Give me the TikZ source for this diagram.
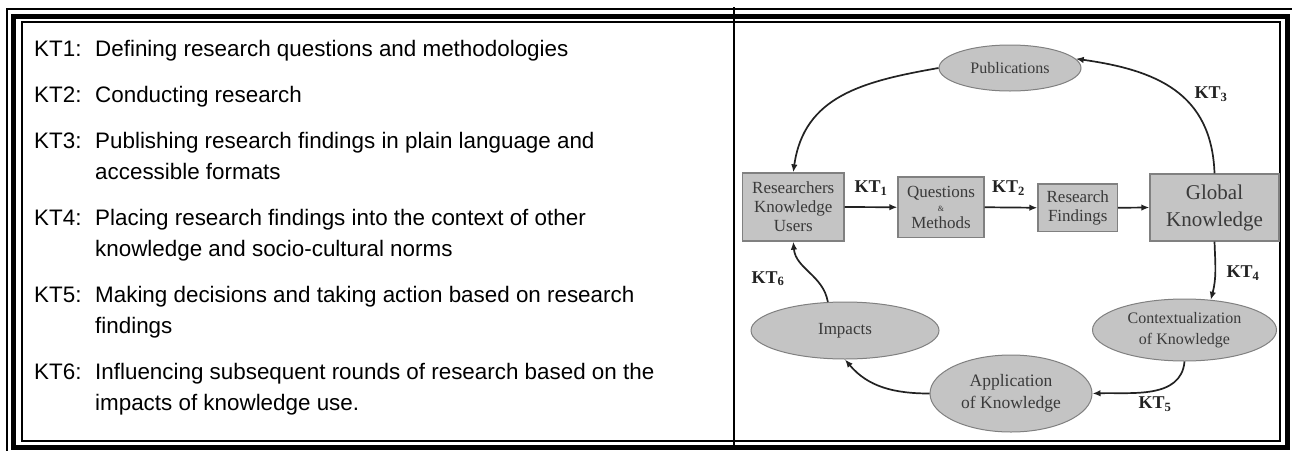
\documentclass[tikz,border=0pt]{standalone}
\usepackage{fontspec}
\setmainfont{Liberation Sans}
\newfontfamily\diagfont{Liberation Serif}
\usetikzlibrary{shapes.geometric,arrows.meta}
\definecolor{boxfill}{HTML}{C4C4C4}
\definecolor{boxline}{HTML}{808080}
\definecolor{dtext}{HTML}{3A3A3A}
\definecolor{arrowc}{HTML}{222222}
\begin{document}
\begin{tikzpicture}[x=1pt,y=1pt,
  lab/.style={font=\fontsize{22.4}{26}\selectfont, anchor=base west, inner sep=0pt},
  boxnode/.style={draw=boxline, fill=boxfill, line width=1.3pt, rectangle, inner sep=0pt, align=center, text=dtext, font=\diagfont\fontsize{17}{19}\selectfont},
  ellnode/.style={draw=boxline, fill=boxfill, line width=1pt, ellipse, inner sep=0pt, align=center, text=dtext, font=\diagfont\fontsize{17}{20}\selectfont},
  ktlab/.style={font=\diagfont\bfseries\fontsize{18}{20}\selectfont, text=arrowc, inner sep=0pt},
  conn/.style={line width=1.7pt, draw=arrowc, -{Latex[length=8pt,width=6.5pt]}},
  ]
\useasboundingbox (0,0) rectangle (1292,-450);
\fill[white] (0,0) rectangle (1292,-450);
% borders
\draw[line width=1.5pt] (7,-9) rectangle (1292.5,-455);
\draw[line width=5pt] (13.5,-16) rectangle (1287.5,-447.5);
\draw[line width=2pt] (22,-22.3) rectangle (1279.5,-441);
\draw[line width=1.6pt] (734,-7) -- (734,-450);
% left list
\node[lab] (k1) at (34,-56) {KT1:};
\node[lab] (t1) at (95,-56) {Defining research questions and methodologies};
\node[lab] (k2) at (34,-102) {KT2:};
\node[lab] (t2) at (95,-102) {Conducting research};
\node[lab] (k3) at (34,-148) {KT3:};
\node[lab] (t3) at (95,-148) {Publishing research findings in plain language and};
\node[lab] (t3b) at (95,-179) {accessible formats};
\node[lab] (k4) at (34,-225) {KT4:};
\node[lab] (t4) at (95,-225) {Placing research findings into the context of other};
\node[lab] (t4b) at (95,-256) {knowledge and socio-cultural norms};
\node[lab] (k5) at (34,-302) {KT5:};
\node[lab] (t5) at (95,-302) {Making decisions and taking action based on research};
\node[lab] (t5b) at (95,-333) {findings};
\node[lab] (k6) at (34,-379) {KT6:};
\node[lab] (t6) at (95,-379) {Influencing subsequent rounds of research based on the};
\node[lab] (t6b) at (95,-410) {impacts of knowledge use.};
% diagram nodes
\node[boxnode, minimum width=101.5pt, minimum height=68pt] (res) at (793.25,-207) {Researchers\\Knowledge\\Users};
\node[boxnode, minimum width=86pt, minimum height=60.5pt] (qm) at (941,-207.25) {Questions\\[-5pt]{\fontsize{8}{8}\selectfont\&}\\[-2pt]Methods};
\node[boxnode, minimum width=79.5pt, minimum height=47.5pt] (rf) at (1077.75,-207.75) {Research\\Findings};
\node[boxnode, minimum width=129pt, minimum height=67pt, font=\diagfont\fontsize{21}{27}\selectfont] (gk) at (1214.5,-207.5) {Global\\Knowledge};
\node[ellnode, minimum width=142pt, minimum height=46pt, font=\diagfont\fontsize{16}{20}\selectfont] (pub) at (1010,-68) {Publications};
\node[ellnode, minimum width=188pt, minimum height=57pt] (imp) at (845,-330.5) {Impacts};
\node[ellnode, minimum width=184pt, minimum height=62pt, font=\diagfont\fontsize{16}{21}\selectfont] (ctx) at (1184.5,-330) {Contextualization\\of Knowledge};
\node[ellnode, minimum width=162pt, minimum height=77pt, font=\diagfont\fontsize{17.5}{22}\selectfont] (app) at (1011,-393.5) {Application\\of Knowledge};
% KT labels
\node[ktlab] (l1) at (871,-188) {KT\textsubscript{1}};
\node[ktlab] (l2) at (1008.5,-188) {KT\textsubscript{2}};
\node[ktlab] (l3) at (1211,-94) {KT\textsubscript{3}};
\node[ktlab] (l4) at (1243,-273) {KT\textsubscript{4}};
\node[ktlab] (l5) at (1155,-404) {KT\textsubscript{5}};
\node[ktlab] (l6) at (768,-278.5) {KT\textsubscript{6}};
% connectors
\draw[conn] (res.east) -- (qm.west);
\draw[conn] (qm.east) -- (rf.west);
\draw[conn] (rf.east) -- (gk.west);
\draw[conn] (pub.west) to[out=190, in=82, looseness=1.1] (res.north);
\draw[conn] (gk.north) to[out=92, in=-8, looseness=1.15] (pub.8);
\draw[conn] (gk.south) to[out=-88, in=75] (ctx.49);
\draw[conn] (ctx.south) to[out=-95, in=2] (app.east);
\draw[conn] (app.west) to[out=180, in=-50] (imp.south);
\draw[conn] (imp.121) to[out=100, in=-85] (res.south);
\end{tikzpicture}
\end{document}
